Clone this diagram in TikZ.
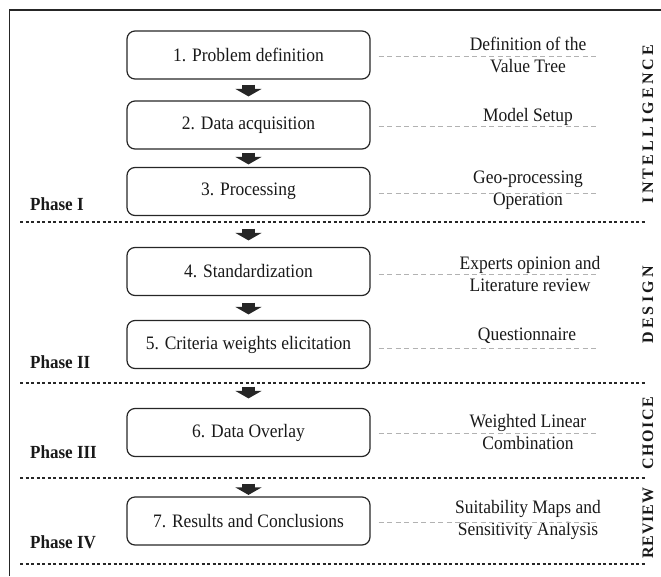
\documentclass[tikz,border=0pt]{standalone}
\usepackage{fontspec}
\setmainfont[FakeStretch=0.92]{Liberation Serif}
\newfontfamily\spacedA[LetterSpace=20]{Liberation Serif}
\newfontfamily\spacedB[LetterSpace=10]{Liberation Serif}
\newfontfamily\spacedC[LetterSpace=5]{Liberation Serif}
\usetikzlibrary{arrows.meta,calc}
\tikzset{
  stepbox/.style={draw=black!85, line width=1.2pt, rounded corners=8pt,
    minimum width=243pt, minimum height=48pt, inner sep=0pt,
    font=\fontsize{19}{22}\selectfont, text=black!90},
  annot/.style={align=center, inner sep=0pt, font=\fontsize{19}{21.5}\selectfont, text=black!90},
  annline/.style={draw=black!30, line width=0.8pt, dash pattern=on 5pt off 3.5pt},
  sepline/.style={draw=black!85, line width=2.5pt, dash pattern=on 3pt off 2.5pt},
  phaselab/.style={anchor=west, inner sep=0pt, font=\bfseries\fontsize{18.5}{20}\selectfont, text=black!90},
  flow/.style={draw=black!85, line width=13pt, -{Triangle[width=26pt,length=7.5pt]}},
  vlab/.style={rotate=90, inner sep=0pt, text=black!90}
}
\begin{document}
\begin{tikzpicture}[x=1pt,y=-1pt]
\useasboundingbox (0,0) rectangle (661,576);
% frame
\draw[line width=1.5pt, black!85] (9.5,576) -- (9.5,10) -- (661,10);
% boxes
\node[stepbox] (b1) at (248.5,55) {1. Problem definition};
\node[stepbox] (b2) at (248.5,125) {2. Data acquisition};
\node[stepbox] (b3) at (248.5,191.5) {3. Processing};
\node[stepbox] (b4) at (248.5,271.5) {4. Standardization};
\node[stepbox] (b5) at (248.5,344.5) {5. Criteria weights elicitation};
\node[stepbox] (b6) at (248.5,432.5) {6. Data Overlay};
\node[stepbox] (b7) at (248.5,521) {7. Results and Conclusions};
% arrows
\draw[flow, shorten <=5pt, shorten >=4pt] (b1.south) -- (b2.north);
\draw[flow, shorten <=3pt, shorten >=2.5pt] (b2.south) -- (b3.north);
\draw[flow, shorten <=12.5pt, shorten >=6.5pt] (b3.south) -- (b4.north);
\draw[flow, shorten <=6.5pt, shorten >=5.5pt] (b4.south) -- (b5.north);
\draw[flow, shorten <=17.5pt, shorten >=9.5pt] (b5.south) -- (b6.north);
\draw[flow, shorten <=26.5pt, shorten >=1.5pt] (b6.south) -- (b7.north);
% separators
\coordinate (s1a) at (20,222); \coordinate (s1b) at (646,222);
\coordinate (s2a) at (20,383); \coordinate (s2b) at (646,383);
\coordinate (s3a) at (20,478); \coordinate (s3b) at (646,478);
\coordinate (s4a) at (20,564); \coordinate (s4b) at (646,564);
\draw[sepline] (s1a) -- (s1b);
\draw[sepline] (s2a) -- (s2b);
\draw[sepline] (s3a) -- (s3b);
\draw[sepline] (s4a) -- (s4b);
% phase labels
\node[phaselab] (p1) at (30,204) {Phase I};
\node[phaselab] (p2) at (30,362) {Phase II};
\node[phaselab] (p3) at (30,452) {Phase III};
\node[phaselab] (p4) at (30,542) {Phase IV};
% annotations
\node[annot] (a1) at (528,55) {Definition of the\\Value Tree};
\node[annot] (a2) at (528,117) {Model Setup};
\node[annot] (a3) at (528,190) {Geo-processing\\Operation};
\node[annot] (a4) at (530,274) {Experts opinion and\\Literature review};
\node[annot] (a5) at (527,336) {Questionnaire};
\node[annot] (a6) at (528,432) {Weighted Linear\\Combination};
\node[annot] (a7) at (528,520) {Suitability Maps and\\Sensitivity Analysis};
% dashed leaders
\coordinate (d1) at (598,56);
\coordinate (d2) at (598,126);
\coordinate (d3) at (598,193);
\coordinate (d4) at (598,274);
\coordinate (d5) at (598,348);
\coordinate (d6) at (598,433);
\coordinate (d7) at (598,522);
\draw[annline, shorten <=8pt] (b1.east |- d1) -- (d1);
\draw[annline, shorten <=8pt] (b2.east |- d2) -- (d2);
\draw[annline, shorten <=8pt] (b3.east |- d3) -- (d3);
\draw[annline, shorten <=8pt] (b4.east |- d4) -- (d4);
\draw[annline, shorten <=8pt] (b5.east |- d5) -- (d5);
\draw[annline, shorten <=8pt] (b6.east |- d6) -- (d6);
\draw[annline, shorten <=8pt] (b7.east |- d7) -- (d7);
% vertical phase names
\node[vlab, font=\spacedA\bfseries\fontsize{16}{17}\selectfont] (v1) at (648,124) {INTELLIGENCE};
\node[vlab, font=\spacedA\bfseries\fontsize{16}{17}\selectfont] (v2) at (648,305) {DESIGN};
\node[vlab, font=\spacedB\bfseries\fontsize{16}{17}\selectfont] (v3) at (648,433) {CHOICE};
\node[vlab, font=\spacedC\bfseries\fontsize{16}{17}\selectfont] (v4) at (648,523) {REVIEW};
\end{tikzpicture}
\end{document}
